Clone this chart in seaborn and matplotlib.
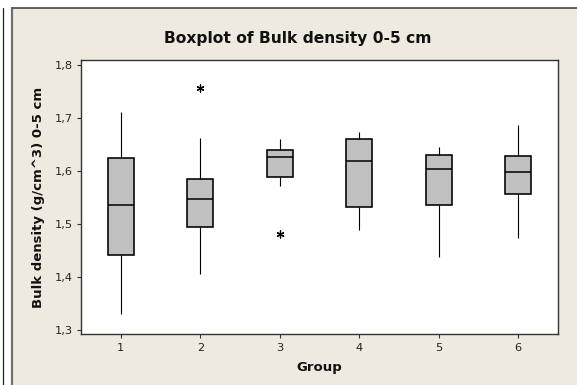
import matplotlib
matplotlib.use("Agg")
import matplotlib.pyplot as plt
from matplotlib.patches import Rectangle
from matplotlib.lines import Line2D
import seaborn as sns
import pandas as pd

# ---- data ----
groups = ["1", "2", "3", "4", "5", "6"]
whisker_low = [1.330, 1.406, 1.571, 1.489, 1.439, 1.473]
q1 = [1.4425, 1.495, 1.589, 1.532, 1.536, 1.557]
median = [1.536, 1.547, 1.627, 1.6185, 1.604, 1.598]
q3 = [1.624, 1.585, 1.640, 1.660, 1.630, 1.628]
whisker_high = [1.711, 1.662, 1.660, 1.673, 1.645, 1.6875]
outlier_groups = ["2", "3"]
outlier_values = [1.756, 1.4815]
y_ticks = [1.3, 1.4, 1.5, 1.6, 1.7, 1.8]
y_tick_labels = ["1,3", "1,4", "1,5", "1,6", "1,7", "1,8"]

title = "Boxplot of Bulk density 0-5 cm"
x_label = "Group"
y_label = "Bulk density (g/cm^3) 0-5 cm"

# long-form table: five-number summary per group
rows = []
for g, a, b, c, d, e in zip(groups, whisker_low, q1, median, q3, whisker_high):
    for v in (a, b, c, d, e):
        rows.append({"Group": g, "value": v})
df = pd.DataFrame(rows)
out_df = pd.DataFrame({"Group": outlier_groups, "value": outlier_values})

sns.set_theme(style="ticks")
plt.rcParams["font.family"] = ["DejaVu Sans"]

BEIGE = "#EEEAE0"
fig = plt.figure(figsize=(5.77, 3.85), dpi=100, facecolor="white")
W, H = 577.0, 385.0

# window frame (beige panel with borders)
fig.add_artist(Rectangle((12 / W, 0), 1 - 12 / W, 1 - 8 / H, transform=fig.transFigure,
                         facecolor=BEIGE, edgecolor="none", zorder=0))
fig.add_artist(Line2D([12 / W, 12 / W], [0, 1 - 8 / H], transform=fig.transFigure,
                      color="#707070", lw=1.6, zorder=1))
fig.add_artist(Line2D([12 / W, 1], [1 - 8.3 / H, 1 - 8.3 / H], transform=fig.transFigure,
                      color="#555555", lw=1.3, zorder=1))
fig.add_artist(Line2D([3.3 / W, 3.3 / W], [0, 1 - 8 / H], transform=fig.transFigure,
                      color="#222222", lw=0.9, zorder=1))

ax = fig.add_axes([81 / W, 1 - 334 / H, (558 - 81) / W, (334 - 60) / H])
ax.set_facecolor("white")

sns.boxplot(data=df, x="Group", y="value", order=groups, ax=ax,
            whis=(0, 100), width=0.33, color="#C0C0C0", saturation=1,
            linecolor="black", linewidth=1.15, showcaps=False, fliersize=0,
            whiskerprops={"linewidth": 0.8},
            medianprops={"linewidth": 1.1, "color": "black"})

sns.stripplot(data=out_df, x="Group", y="value", order=groups, ax=ax,
              jitter=False, marker=(6, 2, 0), size=5, color="black",
              linewidth=0.9, edgecolor="black")

ax.set_xlim(-0.5, 5.5)
ax.set_ylim(1.293, 1.8094)
ax.set_yticks(y_ticks)
ax.set_yticklabels(y_tick_labels)

for s in ax.spines.values():
    s.set_visible(True)
    s.set_color("#333333")
    s.set_linewidth(1.0)

ax.tick_params(axis="both", direction="out", length=3, width=0.8, color="#333333",
               labelsize=8.2, labelcolor="#222222")
ax.tick_params(axis="y", pad=2.8)
ax.tick_params(axis="x", pad=3.8)

ax.set_xlabel(x_label, fontsize=9.5, fontweight="bold", color="#111111")
ax.set_ylabel(y_label, fontsize=9.5, fontweight="bold", color="#111111")
ax.xaxis.set_label_coords(0.5, -0.098)
ax.yaxis.set_label_coords(-0.0755, 0.5)

fig.text(297.7 / W, 1 - 42.7 / H, title, ha="center", va="baseline",
         fontsize=11.2, fontweight="bold", color="#111111")

fig.savefig("out.png", dpi=100, facecolor=fig.get_facecolor())
